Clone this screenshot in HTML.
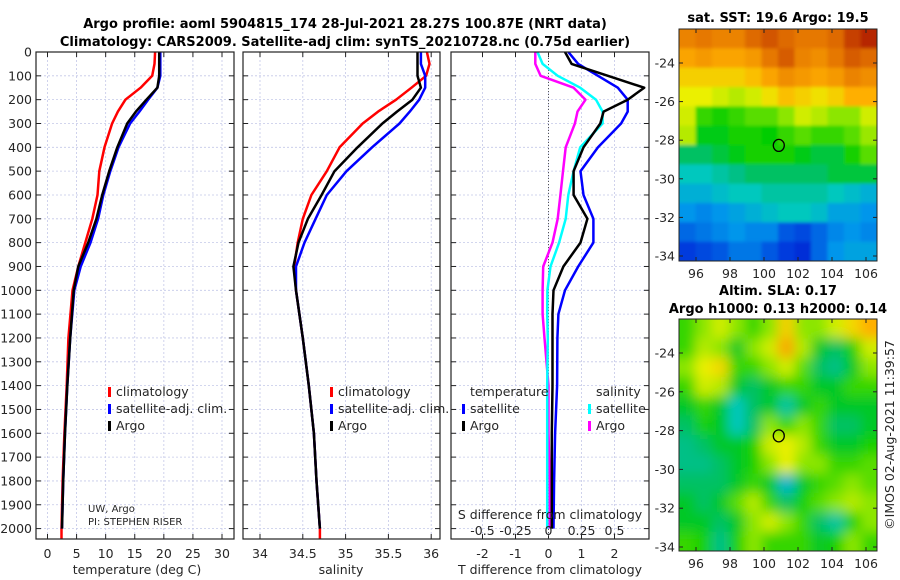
<!DOCTYPE html>
<html><head><meta charset="utf-8">
<style>
html,body{margin:0;padding:0;background:#fff;}
svg{display:block;font-family:"DejaVu Sans","Liberation Sans",sans-serif;}
.t{font-size:12.5px;fill:#262626;}
.b{font-size:13px;font-weight:bold;fill:#000;}
</style></head>
<body>
<svg id="chart" width="900" height="580" viewBox="0 0 900 580">
<defs><filter id="blur" x="0" y="0" width="100%" height="100%"><feGaussianBlur stdDeviation="6"/></filter>
<filter id="soft" x="0" y="0" width="100%" height="100%"><feGaussianBlur stdDeviation="1.5"/></filter>
<clipPath id="clipA"><rect x="679" y="29" width="198" height="232"/></clipPath>
<clipPath id="clipB"><rect x="679" y="319" width="198" height="232"/></clipPath>
<clipPath id="clipP1"><rect x="36" y="52" width="198" height="487"/></clipPath>
<clipPath id="clipP2"><rect x="243" y="52" width="197" height="487"/></clipPath>
<clipPath id="clipP3"><rect x="451" y="52" width="198" height="487"/></clipPath>
</defs>
<text class="b" x="345" y="28" text-anchor="middle">Argo profile: aoml 5904815_174 28-Jul-2021 28.27S 100.87E (NRT data)</text>
<text class="b" x="345" y="46" text-anchor="middle">Climatology: CARS2009. Satellite-adj clim: synTS_20210728.nc (0.75d earlier)</text>
<g id="g"></g>
</svg>
<script>
// ---- data ----
const tDepth = [0,50,100,150,200,250,300,400,500,600,700,800,900,1000,1200,1400,1600,1800,2000];
const tClim = [18.5,18.4,18.0,16.0,13.4,12.1,11.1,9.8,8.9,8.6,7.7,6.5,5.3,4.3,3.6,3.3,2.9,2.6,2.4];
const tSat  = [19.4,19.4,19.4,18.9,17.3,15.8,14.2,12.2,10.8,9.6,8.7,7.4,5.7,4.6,3.9,3.4,3.0,2.7,2.5];
const tArgo = [19.2,19.2,19.2,18.9,17.0,15.2,13.7,12.0,10.6,9.4,8.4,7.0,5.3,4.5,3.9,3.4,3.0,2.7,2.5];
const sClim = [35.95,35.98,35.94,35.77,35.59,35.38,35.20,34.93,34.78,34.60,34.50,34.44,34.40,34.42,34.50,34.57,34.63,34.66,34.70];
const sSat  = [35.88,35.88,35.93,35.93,35.86,35.75,35.63,35.31,35.01,34.78,34.65,34.52,34.42,34.42,34.50,34.57,34.63,34.66,34.70];
const sArgo = [35.84,35.84,35.84,35.88,35.78,35.60,35.43,35.14,34.87,34.72,34.56,34.45,34.39,34.42,34.50,34.57,34.63,34.66,34.70];
const dDepth = [0,50,100,150,200,250,300,400,500,600,700,800,900,1000,1100,1200,1400,1600,1800,2000];
const dTSat  = [0.6,0.9,1.5,2.1,2.4,2.4,2.2,1.5,0.97,1.06,1.36,1.36,0.9,0.5,0.3,0.27,0.26,0.2,0.17,0.15];
const dTArgo = [0.5,0.7,1.8,2.9,2.4,1.67,1.57,1.06,0.76,0.76,1.18,0.97,0.45,0.15,0.12,0.12,0.12,0.1,0.1,0.1];
const dSSat  = [-0.083,-0.045,0.07,0.24,0.36,0.41,0.41,0.24,0.19,0.15,0.13,0.08,0.015,-0.008,-0.01,-0.005,-0.01,-0.01,-0.01,-0.01];
const dSArgo = [-0.1,-0.1,-0.06,0.19,0.28,0.22,0.2,0.13,0.11,0.09,0.07,0.03,-0.04,-0.045,-0.045,-0.03,0,0,0.01,0.01];
const depthTicks = [0,100,200,300,400,500,600,700,800,900,1000,1100,1200,1300,1400,1500,1600,1700,1800,1900,2000];
const tTicks = [0,5,10,15,20,25,30];
const sTicks = [34,34.5,35,35.5,36];
const sTickLabels = ["34","34.5","35","35.5","36"];
const dTTicks = [-2,-1,0,1,2];
const dSTicks = [-0.5,-0.25,0,0.25,0.5];
const dSTickLabels = ["-0.5","-0.25","0","0.25","0.5"];
const lonTicks = [96,98,100,102,104,106];
const latTicks = [-24,-26,-28,-30,-32,-34];
const sstGrid = [
[0.78,0.8,0.78,0.78,0.82,0.85,0.82,0.8,0.8,0.82,0.88,0.92],
[0.72,0.74,0.72,0.72,0.74,0.8,0.84,0.78,0.76,0.8,0.84,0.82],
[0.66,0.66,0.66,0.66,0.68,0.72,0.76,0.74,0.72,0.74,0.78,0.76],
[0.62,0.62,0.6,0.58,0.6,0.64,0.68,0.66,0.64,0.66,0.7,0.7],
[0.6,0.5,0.48,0.5,0.52,0.52,0.55,0.6,0.58,0.55,0.55,0.6],
[0.58,0.46,0.46,0.48,0.48,0.47,0.5,0.52,0.5,0.5,0.52,0.56],
[0.42,0.42,0.44,0.46,0.48,0.48,0.48,0.46,0.44,0.44,0.48,0.52],
[0.36,0.36,0.38,0.4,0.42,0.42,0.42,0.42,0.42,0.44,0.44,0.44],
[0.32,0.32,0.34,0.36,0.36,0.38,0.38,0.38,0.38,0.36,0.34,0.32],
[0.28,0.26,0.28,0.3,0.32,0.34,0.36,0.36,0.34,0.3,0.3,0.28],
[0.22,0.24,0.26,0.28,0.26,0.26,0.2,0.18,0.22,0.26,0.28,0.26],
[0.16,0.18,0.2,0.24,0.24,0.2,0.16,0.14,0.22,0.28,0.3,0.3]];
const slaGrid = [
[0.5,0.55,0.6,0.55,0.5,0.55,0.66,0.55,0.55,0.6,0.65,0.7],
[0.5,0.58,0.55,0.45,0.55,0.6,0.72,0.58,0.45,0.42,0.48,0.6],
[0.55,0.62,0.65,0.5,0.5,0.55,0.6,0.52,0.42,0.4,0.45,0.55],
[0.5,0.6,0.58,0.45,0.42,0.45,0.5,0.5,0.45,0.45,0.5,0.5],
[0.45,0.5,0.45,0.36,0.42,0.45,0.38,0.45,0.5,0.45,0.45,0.45],
[0.42,0.48,0.45,0.36,0.42,0.55,0.5,0.55,0.5,0.42,0.42,0.45],
[0.4,0.42,0.45,0.45,0.48,0.6,0.62,0.58,0.5,0.45,0.45,0.48],
[0.4,0.4,0.42,0.45,0.48,0.55,0.62,0.55,0.55,0.5,0.5,0.52],
[0.42,0.42,0.42,0.45,0.5,0.45,0.33,0.45,0.5,0.52,0.55,0.52],
[0.45,0.42,0.45,0.52,0.58,0.5,0.42,0.48,0.52,0.55,0.58,0.55],
[0.45,0.45,0.42,0.45,0.55,0.6,0.55,0.5,0.42,0.38,0.48,0.55],
[0.5,0.48,0.4,0.48,0.55,0.5,0.5,0.5,0.45,0.48,0.55,0.5]];
const argoLon = 100.87, argoLat = -28.27;

// ---- helpers ----
const NS="http://www.w3.org/2000/svg";
const G=document.getElementById('g');
function mk(tag,attrs,parent){const e=document.createElementNS(NS,tag);for(const k in attrs)e.setAttribute(k,attrs[k]);(parent||G).appendChild(e);return e;}
const yD = d => 52 + d*0.2383;
const xT = v => 47.5 + v*(222-47.5)/30;
const xS = v => 260 + (v-34)*85.6;
const xDT = v => 548.5 + v*33;
const xDS = v => 548.5 + v*132;
const PB=539;
const cmapStops=[[0,[0,0,140]],[0.15,[0,50,220]],[0.28,[0,150,235]],[0.36,[0,200,190]],[0.41,[0,190,120]],[0.47,[0,205,0]],[0.55,[140,230,0]],[0.62,[235,240,0]],[0.7,[255,175,0]],[0.8,[230,120,0]],[0.9,[190,50,0]],[1,[150,0,0]]];
function cmap(v){v=Math.max(0,Math.min(1,v));
 for(let i=1;i<cmapStops.length;i++){const a=cmapStops[i-1],b=cmapStops[i];
  if(v<=b[0]){const f=(v-a[0])/(b[0]-a[0]);const c=a[1].map((x,k)=>Math.round(x+(b[1][k]-x)*f));return `rgb(${c[0]},${c[1]},${c[2]})`;}}
 return 'rgb(150,0,0)';}

function panel(name,x0,x1,xticks,xfun,labels,ylabels){
 mk('rect',{x:x0,y:52,width:x1-x0,height:PB-52,fill:'#fff'});
 for(const t of xticks){const l=mk('line',{x1:xfun(t),x2:xfun(t),y1:52,y2:PB,stroke:'#c4c8e8','stroke-width':0.8,'stroke-dasharray':'2,2'});
  }
 for(const d of depthTicks){const l=mk('line',{x1:x0,x2:x1,y1:yD(d),y2:yD(d),stroke:'#c4c8e8','stroke-width':0.8,'stroke-dasharray':'2,2'});
  
  mk('line',{x1:x0,x2:x0+5,y1:yD(d),y2:yD(d),stroke:'#222'});mk('line',{x1:x1-5,x2:x1,y1:yD(d),y2:yD(d),stroke:'#222'});
  if(ylabels){const tx=mk('text',{x:32,y:yD(d)+4.5,'text-anchor':'end',class:'t'});tx.textContent=d;
   }}
 xticks.forEach((t,i)=>{mk('line',{x1:xfun(t),x2:xfun(t),y1:52,y2:57,stroke:'#222'});mk('line',{x1:xfun(t),x2:xfun(t),y1:PB-5,y2:PB,stroke:'#222'});
  if(labels){const tx=mk('text',{x:xfun(t),y:558,'text-anchor':'middle',class:'t'});tx.textContent=labels[i];
   }});
}
function frame(name,x0,x1){const r=mk('rect',{x:x0,y:52,width:x1-x0,height:PB-52,fill:'none',stroke:'#222','stroke-width':1.2});
 }
function line(name,xs,ds,xf,col,w,clip){const p=xs.map((v,i)=>xf(v).toFixed(1)+','+yD(ds[i]).toFixed(1)).join(' ');
 const e=mk('polyline',{points:p,fill:'none',stroke:col,'stroke-width':w,'stroke-linejoin':'round','clip-path':'url(#'+clip+')'});
 return e;}
function txt(s,x,y,attrs,name){const e=mk('text',Object.assign({x:x,y:y,class:'t'},attrs||{}));e.textContent=s;
 return e;}
function legend(x,y,col,label,name){const r=mk('rect',{x:x,y:y-9,width:3,height:10,fill:col});
 
 txt(label,x+8,y,{},name);}

// panel 1 temperature
panel('temperature-panel',36,234,tTicks,xT,tTicks.map(String),true);
line('temp-climatology-line',tClim.concat([tClim[tClim.length-1]]),tDepth.concat([2060]),xT,'#ff0000',2.5,'clipP1');
line('temp-satellite-line',tSat,tDepth,xT,'#0000ff',2.5,'clipP1');
line('temp-argo-line',tArgo,tDepth,xT,'#000',2.5,'clipP1');
frame('temperature-panel',36,234);
legend(108,396,'#ff0000','climatology','legend-climatology');
legend(108,413,'#0000ff','satellite-adj. clim.','legend-satellite');
legend(108,430,'#000','Argo','legend-argo');
txt('UW, Argo',88,512,{style:'font-size:10px'},'institution-label');
txt('PI: STEPHEN RISER',88,525,{style:'font-size:10px'},'pi-label');
txt('temperature (deg C)',137,574,{'text-anchor':'middle'},'temperature-axis-title');

// panel 2 salinity
panel('salinity-panel',243,440,sTicks,xS,sTickLabels,false);
line('sal-climatology-line',sClim.concat([sClim[sClim.length-1]]),tDepth.concat([2060]),xS,'#ff0000',2.5,'clipP2');
line('sal-satellite-line',sSat,tDepth,xS,'#0000ff',2.5,'clipP2');
line('sal-argo-line',sArgo,tDepth,xS,'#000',2.5,'clipP2');
frame('salinity-panel',243,440);
legend(330,396,'#ff0000','climatology','legend-climatology-2');
legend(330,413,'#0000ff','satellite-adj. clim.','legend-satellite-2');
legend(330,430,'#000','Argo','legend-argo-2');
txt('salinity',341,574,{'text-anchor':'middle'},'salinity-axis-title');

// panel 3 differences
panel('difference-panel',451,649,dTTicks,xDT,dTTicks.map(String),false);
mk('line',{x1:xDT(0),x2:xDT(0),y1:52,y2:PB,stroke:'#555','stroke-width':1,'stroke-dasharray':'1,2'});
line('sdiff-argo-line',dSArgo,dDepth,xDS,'#ff00ff',2.5,'clipP3');
line('sdiff-satellite-line',dSSat,dDepth,xDS,'#00ffff',2.5,'clipP3');
line('tdiff-satellite-line',dTSat,dDepth,xDT,'#0000ff',2.5,'clipP3');
line('tdiff-argo-line',dTArgo,dDepth,xDT,'#000',2.5,'clipP3');
frame('difference-panel',451,649);
txt('temperature',470,396,{},'legend-temperature-header');
legend(462,413,'#0000ff','satellite','legend-tdiff-satellite');
legend(462,430,'#000','Argo','legend-tdiff-argo');
txt('salinity',596,396,{},'legend-salinity-header');
legend(588,413,'#00ffff','satellite','legend-sdiff-satellite');
legend(588,430,'#ff00ff','Argo','legend-sdiff-argo');
txt('S difference from climatology',550,519,{'text-anchor':'middle'},'s-difference-axis-title');
dSTicks.forEach((t,i)=>txt(dSTickLabels[i],xDS(t),535,{'text-anchor':'middle'},'s-diff-tick-label'));
txt('T difference from climatology',550,574,{'text-anchor':'middle'},'t-difference-axis-title');

// maps
function map(name,grid,y0,y1,lat24,lat34,filt,clip){
 const x0=679,x1=877;
 const xL=v=>696+(v-96)*17, yL=v=>lat24+(v+24)*(lat34-lat24)/(-10);
 const rows=grid.length,cols=grid[0].length;
 const lonMin=(x0-696)/17+96, lonMax=(x1-696)/17+96;
 const latTop=-24-(y0-lat24)*10/(lat34-lat24), latBot=-24-(y1-lat24)*10/(lat34-lat24);
 const outer=mk('g',{'clip-path':'url(#'+clip+')'});
 const gg=mk('g',{filter:'url(#'+filt+')'},outer);
 
 grid.forEach((row,r)=>row.forEach((v,c)=>{
  const la=latTop+(latBot-latTop)*r/rows, la2=latTop+(latBot-latTop)*(r+1)/rows;
  const lo=lonMin+(lonMax-lonMin)*c/cols, lo2=lonMin+(lonMax-lonMin)*(c+1)/cols;
  const ex=(c===0?-12:0), ey=(r===0?-12:0), ew=(c===cols-1?12:0), eh=(r===rows-1?12:0);
  const e=mk('rect',{x:xL(lo)+ex,y:yL(la)+ey,width:xL(lo2)-xL(lo)+0.5-ex+ew,height:yL(la2)-yL(la)+0.5-ey+eh,fill:cmap(v)},gg);
  }));
 const fr=mk('rect',{x:x0,y:y0,width:x1-x0,height:y1-y0,fill:'none',stroke:'#222','stroke-width':1});
 
 for(const lo of lonTicks){mk('line',{x1:xL(lo),x2:xL(lo),y1:y1-4,y2:y1,stroke:'#222'});mk('line',{x1:xL(lo),x2:xL(lo),y1:y0,y2:y0+4,stroke:'#222'});
  txt(String(lo),xL(lo),y1+17,{'text-anchor':'middle'},name+'-lon-tick-label');}
 for(const la of latTicks){mk('line',{x1:x1-4,x2:x1,y1:yL(la),y2:yL(la),stroke:'#222'});mk('line',{x1:x0,x2:x0+4,y1:yL(la),y2:yL(la),stroke:'#222'});
  txt(String(la),675,yL(la)+4.5,{'text-anchor':'end'},name+'-lat-tick-label');}
 const c=mk('ellipse',{cx:xL(argoLon),cy:yL(argoLat),rx:5.5,ry:6,fill:'none',stroke:'#000','stroke-width':1.3});
 
}
map('sst-map',sstGrid,29,261,63,256,'soft','clipA');
map('sla-map',slaGrid,319,551,353,547,'blur','clipB');
txt('sat. SST: 19.6 Argo: 19.5',778,22,{class:'b','text-anchor':'middle'},'sst-map-title');
txt('Altim. SLA: 0.17',778,295,{class:'b','text-anchor':'middle'},'sla-map-title');
txt('Argo h1000: 0.13 h2000: 0.14',778,313,{class:'b','text-anchor':'middle'},'sla-map-subtitle');
txt('©IMOS 02-Aug-2021 11:39:57',0,0,{'text-anchor':'middle',transform:'translate(894,435) rotate(-90)'},'imos-credit');
</script>
</body></html>
